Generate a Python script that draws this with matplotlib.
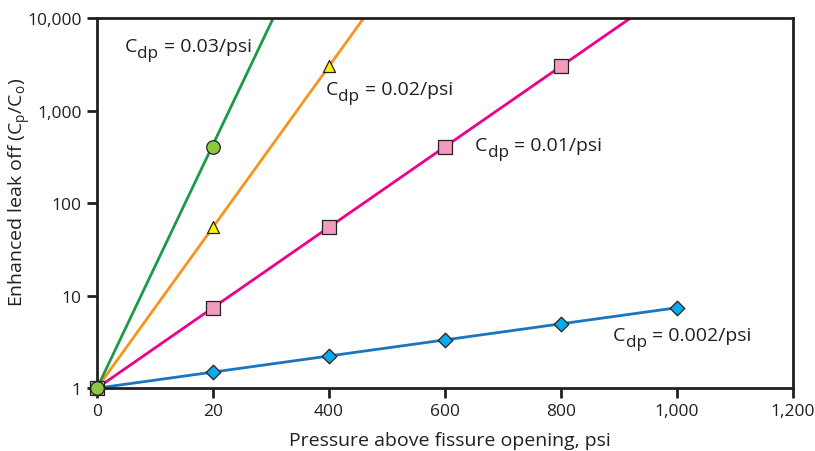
import matplotlib.pyplot as plt
from matplotlib.ticker import FixedLocator, FixedFormatter
from matplotlib.transforms import offset_copy

plt.rcParams['font.family'] = ['Open Sans', 'DejaVu Sans']
plt.rcParams['mathtext.fontset'] = 'custom'
plt.rcParams['mathtext.rm'] = 'Open Sans'
plt.rcParams['mathtext.it'] = 'Open Sans'

# lines: start at origin, end where they leave the top of the plot
line_x = {'0.03': [0, 304], '0.02': [0, 460], '0.01': [0, 920], '0.002': [0, 1000]}
line_y = {'0.03': [1, 10000], '0.02': [1, 10000], '0.01': [1, 10000], '0.002': [1, 7.4]}

# marker points
circ_x = [0, 200]
circ_y = [1, 405]
tri_x = [200, 400]
tri_y = [55, 3000]
sq_x = [0, 200, 400, 600, 800]
sq_y = [1, 7.4, 55, 405, 3000]
dia_x = [0, 200, 400, 600, 800, 1000]
dia_y = [1, 1.48, 2.2, 3.3, 4.95, 7.3]

xticks = [0, 200, 400, 600, 800, 1000, 1200]
xlabels = ['0', '20', '400', '600', '800', '1,000', '1,200']
yticks = [1, 10, 100, 1000, 10000]
ylabels = ['1', '10', '100', '1,000', '10,000']

ink = '#231f20'
fs = 12.5

fig = plt.figure(figsize=(8.15, 4.52), dpi=100)
ax = fig.add_axes([0.119, 0.139, 0.854, 0.819])

ax.plot(line_x['0.002'], line_y['0.002'], color='#1b75bc', lw=2, zorder=2)
ax.plot(line_x['0.01'], line_y['0.01'], color='#ec008c', lw=2, zorder=2)
ax.plot(line_x['0.02'], line_y['0.02'], color='#f7941d', lw=2, zorder=2)
ax.plot(line_x['0.03'], line_y['0.03'], color='#1a9a4a', lw=2, zorder=2)

ax.scatter(dia_x, dia_y, marker='D', s=55, c='#00aeef', edgecolors='#222222', linewidths=0.9, zorder=3, clip_on=False)
ax.scatter(sq_x, sq_y, marker='s', s=95, c='#f49ac1', edgecolors='#222222', linewidths=0.9, zorder=4, clip_on=False)
ax.scatter(tri_x, tri_y, marker='^', s=75, c='#fff200', edgecolors='#222222', linewidths=0.9, zorder=5, clip_on=False)
ax.scatter(circ_x, circ_y, marker='o', s=95, c='#8dc63f', edgecolors='#222222', linewidths=0.9, zorder=6, clip_on=False)

ax.set_yscale('log')
ax.set_xlim(0, 1200)
ax.set_ylim(1, 10000)
ax.xaxis.set_major_locator(FixedLocator(xticks))
ax.xaxis.set_major_formatter(FixedFormatter(xlabels))
ax.yaxis.set_major_locator(FixedLocator(yticks))
ax.yaxis.set_major_formatter(FixedFormatter(ylabels))
ax.yaxis.set_minor_locator(FixedLocator([]))
ax.tick_params(axis='both', direction='out', length=7, width=2, labelsize=fs, color=ink, labelcolor=ink, pad=4)
for s in ax.spines.values():
    s.set_linewidth(2)
    s.set_color(ink)

ax.set_xlabel('Pressure above fissure opening, psi', fontsize=14, color=ink)
ax.set_ylabel('Enhanced leak off (C$_\\mathrm{p}$/C$_\\mathrm{o}$)', fontsize=14, color=ink)
ax.xaxis.set_label_coords(0.507, -0.116)
ax.yaxis.set_label_coords(-0.092, 0.532)

# C_dp labels built from pieces so the subscript is big and low like the original
fig.canvas.draw()
r = fig.canvas.get_renderer()
lfs = 14
labs = [('0.03', 48, 4400), ('0.02', 395, 1500), ('0.01', 652, 374), ('0.002', 890, 3.3)]
for v, tx, ty in labs:
    t1 = ax.text(tx, ty, 'C', fontsize=lfs, color=ink, ha='left', va='baseline')
    w1 = t1.get_window_extent(r).width * 72 / fig.dpi
    tr2 = offset_copy(ax.transData, fig=fig, x=w1, y=-4.5, units='points')
    t2 = ax.text(tx, ty, 'dp', fontsize=lfs * 0.88, color=ink, ha='left', va='baseline', transform=tr2)
    w2 = t2.get_window_extent(r).width * 72 / fig.dpi
    tr3 = offset_copy(ax.transData, fig=fig, x=w1 + w2 + 4, y=0, units='points')
    ax.text(tx, ty, '= ' + v + '/psi', fontsize=lfs, color=ink, ha='left', va='baseline', transform=tr3)

fig.savefig('out.png', dpi=100)
